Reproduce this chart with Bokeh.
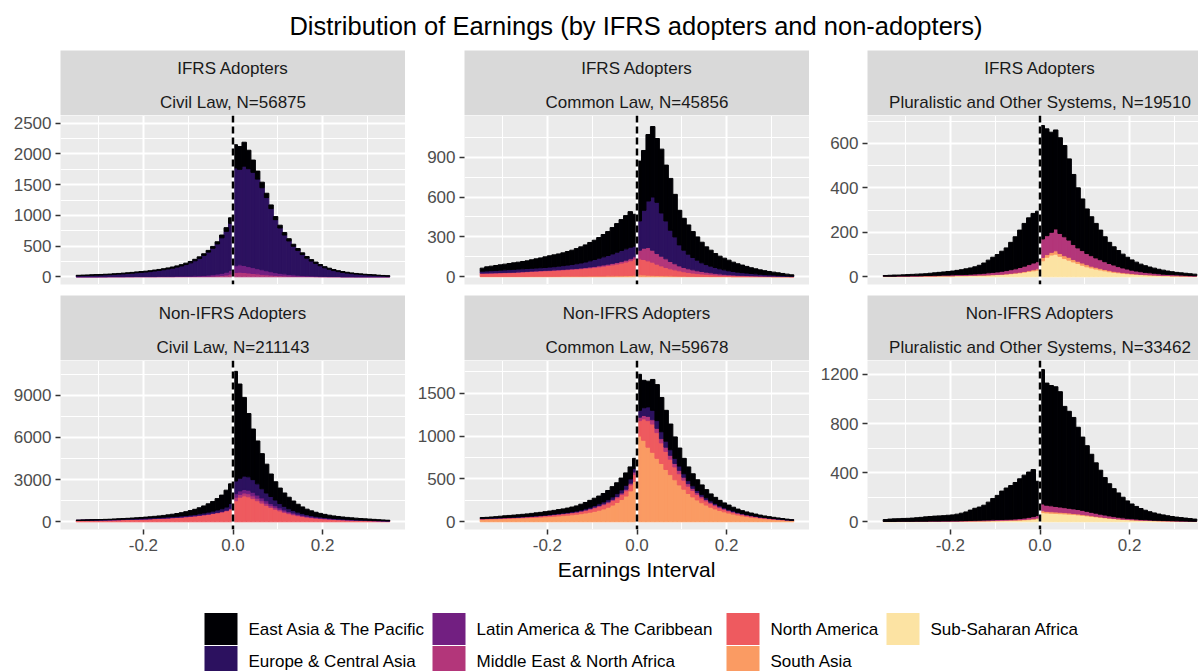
from bokeh.plotting import figure
from bokeh.layouts import column, row
from bokeh.models import (ColumnDataSource, Range1d, FixedTicker, Grid, LinearAxis,
                          Span, PrintfTickFormatter)
from bokeh.core.properties import value
from bokeh.embed import file_html
from bokeh.resources import INLINE

FONT = "Liberation Sans"

# ---------------- data ----------------
bin_centers = [-0.345, -0.335, -0.325, -0.315, -0.305, -0.295, -0.285, -0.275, -0.265, -0.255,
               -0.245, -0.235, -0.225, -0.215, -0.205, -0.195, -0.185, -0.175, -0.165, -0.155,
               -0.145, -0.135, -0.125, -0.115, -0.105, -0.095, -0.085, -0.075, -0.065, -0.055,
               -0.045, -0.035, -0.025, -0.015, -0.005, 0.005, 0.015, 0.025, 0.035, 0.045,
               0.055, 0.065, 0.075, 0.085, 0.095, 0.105, 0.115, 0.125, 0.135, 0.145,
               0.155, 0.165, 0.175, 0.185, 0.195, 0.205, 0.215, 0.225, 0.235, 0.245,
               0.255, 0.265, 0.275, 0.285, 0.295, 0.305, 0.315, 0.325, 0.335, 0.345]
bin_width = 0.01

regions = ["East Asia & The Pacific", "Europe & Central Asia", "Latin America & The Caribbean",
           "Middle East & North Africa", "North America", "South Asia", "Sub-Saharan Africa"]
region_keys = ["EA", "EU", "LA", "ME", "NA", "SA", "SS"]
region_colors = ["#000004", "#2C115F", "#721F81", "#B3367A", "#EE5A5F", "#FA9B63", "#FCE3A3"]

strip_top = ["IFRS Adopters", "IFRS Adopters", "IFRS Adopters",
             "Non-IFRS Adopters", "Non-IFRS Adopters", "Non-IFRS Adopters"]
strip_bottom = ["Civil Law, N=56875", "Common Law, N=45856", "Pluralistic and Other Systems, N=19510",
                "Civil Law, N=211143", "Common Law, N=59678", "Pluralistic and Other Systems, N=33462"]

x_ticks = [-0.2, 0.0, 0.2]
x_minor = [-0.3, -0.1, 0.1, 0.3]

# IFRS adopters, civil law
ifrs_civil_EA = [8, 8, 8, 9, 9, 10, 10, 10, 11, 11, 12, 12, 13, 13, 14, 14, 15, 15, 16, 17, 18, 19, 20, 21, 22, 23, 24, 25, 26, 28, 30, 35, 45, 60, 90,
                 380, 370, 390, 300, 200, 130, 90, 70, 60, 50, 45, 40, 36, 33, 30, 28, 26, 24, 22, 20, 18, 17, 16, 15, 14, 13, 12, 11, 10, 9, 9, 8, 8, 7, 7]
ifrs_civil_EU = [15, 18, 20, 22, 25, 25, 29, 31, 35, 40, 44, 49, 54, 61, 66, 71, 78, 88, 95, 106, 117, 131, 146, 165, 187, 214, 245, 281, 326, 374, 430, 490, 578, 665, 765,
                 1590, 1555, 1615, 1593, 1550, 1457, 1335, 1191, 1027, 862, 738, 632, 545, 464, 403, 340, 286, 241, 206, 171, 139, 117, 97, 80, 69, 58, 49, 42, 36, 31, 26, 22, 17, 13, 9]
ifrs_civil_LA = [1, 1, 1, 1, 1, 2, 2, 2, 2, 2, 2, 3, 3, 3, 3, 4, 4, 4, 5, 5, 6, 6, 7, 7, 8, 8, 10, 12, 15, 18, 22, 28, 35, 45, 60,
                 110, 120, 115, 105, 95, 85, 75, 65, 55, 45, 38, 32, 26, 22, 18, 15, 12, 10, 8, 6, 5, 4, 3, 3, 2, 2, 2, 1, 1, 1, 1, 1, 1, 1, 1]
ifrs_civil_ME = [1, 1, 1, 1, 1, 1, 1, 2, 2, 2, 2, 2, 2, 3, 3, 3, 3, 3, 4, 4, 4, 4, 5, 5, 5, 5, 6, 7, 8, 10, 13, 17, 22, 30, 45,
                 70, 75, 70, 62, 55, 48, 40, 34, 28, 23, 19, 16, 13, 11, 9, 7, 6, 5, 4, 3, 3, 2, 2, 2, 1, 1, 1, 1, 1, 1, 1, 1, 1, 1, 1]

# IFRS adopters, common law
ifrs_common_EA = [23, 31, 34, 37, 40, 43, 46, 49, 52, 55, 58, 64, 69, 74, 80, 85, 89, 92, 96, 102, 107, 114, 121, 129, 138, 145, 155, 168, 180, 198, 215, 232, 250, 268, 240,
                  450, 450, 500, 530, 480, 480, 420, 390, 320, 260, 240, 220, 195, 175, 155, 133, 120, 105, 95, 88, 80, 70, 63, 57, 50, 43, 38, 33, 29, 25, 22, 19, 16, 13, 10]
ifrs_common_EU = [14, 15, 16, 17, 18, 19, 20, 21, 21, 21, 21, 21, 21, 21, 21, 23, 24, 26, 28, 30, 32, 35, 38, 41, 46, 52, 57, 61, 65, 71, 77, 82, 85, 86, 80,
                  220, 285, 350, 400, 385, 325, 285, 235, 202, 158, 130, 110, 93, 80, 65, 57, 50, 44, 38, 33, 29, 26, 23, 20, 18, 16, 14, 12, 11, 10, 8, 7, 6, 4, 3]
ifrs_common_ME = [3, 3, 3, 3, 3, 3, 3, 3, 3, 3, 3, 3, 4, 4, 4, 4, 4, 4, 4, 4, 5, 5, 5, 6, 7, 7, 8, 9, 10, 11, 12, 13, 14, 15, 17,
                  65, 85, 100, 90, 80, 73, 65, 55, 46, 37, 32, 27, 24, 21, 19, 16, 14, 12, 10, 8, 6, 5, 4, 4, 4, 4, 3, 3, 2, 2, 2, 1, 1, 1, 1]
ifrs_common_NA = [22, 23, 24, 25, 26, 27, 28, 29, 31, 33, 35, 36, 37, 39, 41, 42, 44, 46, 47, 49, 51, 53, 56, 59, 61, 65, 69, 74, 78, 83, 88, 95, 102, 111, 121,
                  120, 116, 108, 99, 85, 73, 62, 53, 46, 40, 33, 29, 24, 21, 18, 16, 14, 12, 10, 9, 8, 8, 7, 6, 5, 4, 4, 3, 3, 2, 3, 3, 2, 2, 1]
ifrs_common_SA = [3, 3, 3, 3, 3, 3, 3, 3, 3, 3, 3, 4, 4, 4, 4, 4, 4, 4, 5, 5, 5, 5, 5, 5, 6, 6, 6, 6, 7, 7, 8, 8, 9, 10, 12,
                  15, 14, 12, 11, 10, 9, 8, 7, 6, 5, 5, 4, 4, 3, 3, 3, 2, 2, 2, 2, 2, 1, 1, 1, 1, 1, 1, 1, 1, 1, 0, 0, 0, 0, 0]

# IFRS adopters, pluralistic
ifrs_plural_EA = [3, 4, 5, 4, 5, 6, 6, 7, 8, 8, 10, 11, 13, 14, 16, 17, 19, 22, 25, 28, 32, 38, 46, 57, 68, 78, 90, 102, 123, 144, 168, 192, 210, 223, 227,
                  510, 480, 450, 445, 430, 410, 365, 315, 270, 232, 200, 175, 155, 133, 112, 95, 82, 72, 62, 53, 46, 40, 34, 30, 26, 23, 20, 18, 15, 13, 11, 10, 9, 8, 7]
ifrs_plural_ME = [1, 1, 1, 1, 1, 1, 2, 2, 1, 2, 2, 3, 2, 3, 3, 4, 4, 4, 5, 5, 6, 6, 8, 9, 10, 11, 13, 14, 16, 18, 21, 24, 27, 30, 32,
                  83, 85, 90, 98, 90, 85, 77, 67, 60, 56, 50, 47, 42, 39, 35, 31, 28, 24, 21, 18, 15, 13, 12, 10, 9, 8, 7, 6, 5, 5, 4, 4, 3, 3, 2]
ifrs_plural_SA = [0, 0, 0, 1, 1, 1, 1, 0, 1, 1, 1, 1, 1, 1, 1, 1, 1, 1, 1, 1, 1, 1, 1, 1, 1, 1, 1, 2, 2, 2, 3, 3, 4, 5, 6,
                  15, 12, 12, 15, 13, 13, 13, 11, 10, 10, 10, 8, 8, 7, 6, 6, 5, 4, 3, 3, 3, 2, 1, 1, 1, 1, 1, 1, 1, 1, 1, 0, 1, 0, 0]
ifrs_plural_SS = [2, 2, 2, 2, 2, 2, 2, 3, 3, 3, 3, 3, 4, 4, 4, 4, 5, 5, 5, 6, 6, 7, 7, 8, 9, 10, 11, 12, 14, 16, 18, 21, 24, 27, 30,
                  72, 88, 98, 102, 92, 82, 75, 67, 60, 52, 45, 40, 35, 31, 27, 23, 20, 18, 16, 14, 12, 11, 10, 9, 8, 7, 6, 5, 5, 4, 4, 4, 3, 3, 3]

# Non-IFRS adopters, civil law
non_civil_EA = [10, 13, 15, 17, 19, 21, 23, 25, 30, 35, 40, 48, 56, 64, 60, 70, 80, 94, 108, 125, 145, 168, 194, 228, 268, 315, 365, 425, 500, 590, 690, 810, 970, 1200, 1400,
                7800, 6700, 5600, 4500, 3600, 3050, 2500, 2050, 1600, 1300, 1100, 950, 820, 680, 560, 460, 380, 330, 285, 250, 220, 195, 175, 160, 145, 133, 120, 110, 98, 90, 82, 73, 63, 53, 43]
non_civil_EU = [6, 8, 10, 12, 13, 15, 17, 18, 21, 23, 25, 29, 32, 34, 48, 52, 55, 58, 59, 60, 62, 65, 68, 70, 73, 74, 82, 94, 105, 117, 133, 158, 182, 215, 330,
                900, 900, 950, 950, 900, 800, 650, 550, 500, 400, 300, 240, 190, 160, 140, 120, 100, 80, 70, 60, 50, 43, 37, 32, 30, 27, 23, 20, 19, 17, 15, 13, 12, 10, 8]
non_civil_LA = [2, 2, 2, 2, 3, 3, 3, 3, 3, 4, 4, 4, 4, 4, 4, 5, 5, 5, 6, 7, 7, 8, 9, 9, 10, 11, 12, 14, 16, 18, 20, 22, 26, 30, 40,
                250, 250, 250, 250, 250, 220, 200, 180, 150, 140, 120, 100, 85, 75, 60, 55, 48, 42, 35, 32, 28, 25, 22, 20, 18, 16, 15, 14, 12, 11, 10, 9, 8, 7, 6]
non_civil_ME = [2, 2, 2, 2, 2, 2, 2, 3, 3, 3, 3, 3, 3, 4, 4, 4, 5, 5, 5, 5, 6, 7, 7, 8, 9, 10, 11, 12, 14, 15, 17, 20, 22, 25, 30,
                250, 200, 200, 220, 200, 180, 170, 150, 130, 120, 100, 90, 75, 65, 55, 47, 42, 38, 33, 30, 27, 24, 21, 19, 17, 16, 14, 13, 12, 11, 10, 9, 8, 7, 6]
non_civil_NA = [95, 100, 106, 112, 118, 124, 130, 136, 143, 150, 158, 166, 175, 184, 194, 204, 215, 228, 242, 258, 275, 292, 312, 335, 360, 390, 420, 455, 495, 540, 590, 640, 700, 780, 900,
                1500, 1750, 1850, 1780, 1650, 1500, 1330, 1170, 1020, 890, 780, 670, 580, 500, 435, 378, 330, 290, 257, 228, 205, 183, 165, 149, 135, 123, 113, 103, 94, 86, 78, 71, 64, 58, 52]

# Non-IFRS adopters, common law
non_common_EA = [10, 10, 12, 14, 17, 20, 22, 23, 24, 26, 28, 30, 32, 34, 38, 39, 41, 44, 46, 50, 54, 59, 67, 73, 80, 85, 90, 98, 107, 120, 127, 138, 145, 140, 120,
                 420, 320, 300, 360, 420, 400, 360, 300, 250, 210, 180, 160, 140, 125, 110, 95, 80, 70, 62, 55, 50, 42, 36, 32, 29, 26, 23, 20, 17, 15, 13, 11, 9, 7, 5]
non_common_EU = [3, 3, 3, 3, 3, 3, 3, 4, 4, 4, 4, 5, 5, 5, 5, 6, 7, 7, 7, 7, 8, 9, 10, 12, 15, 18, 20, 22, 25, 28, 33, 37, 45, 50, 40,
                 80, 90, 110, 110, 90, 80, 70, 65, 60, 50, 40, 35, 30, 25, 22, 20, 17, 15, 13, 11, 10, 9, 8, 7, 6, 5, 5, 4, 3, 3, 3, 2, 2, 2, 1]
non_common_ME = [2, 2, 2, 2, 2, 2, 2, 2, 3, 3, 3, 3, 3, 3, 3, 4, 4, 5, 5, 5, 6, 6, 7, 7, 8, 9, 10, 11, 12, 14, 15, 17, 18, 20, 30,
                 40, 40, 50, 50, 50, 50, 50, 45, 40, 40, 35, 30, 25, 22, 20, 17, 15, 13, 11, 10, 9, 8, 7, 6, 5, 5, 4, 3, 3, 3, 2, 2, 2, 1, 1]
non_common_NA = [5, 5, 6, 6, 6, 7, 7, 7, 7, 8, 9, 10, 12, 13, 14, 15, 17, 18, 20, 21, 22, 23, 26, 30, 35, 41, 45, 49, 51, 53, 55, 58, 62, 70, 80,
                 180, 250, 310, 330, 300, 240, 210, 180, 150, 130, 105, 85, 75, 63, 56, 48, 43, 37, 32, 28, 24, 21, 18, 16, 14, 12, 10, 9, 8, 6, 5, 5, 4, 3, 2]
non_common_SA = [30, 32, 33, 35, 37, 38, 40, 42, 44, 46, 48, 50, 52, 55, 58, 61, 64, 68, 72, 77, 82, 88, 95, 103, 112, 122, 135, 150, 170, 195, 225, 260, 300, 360, 470,
                 1000, 950, 870, 810, 740, 680, 610, 550, 490, 430, 380, 330, 290, 255, 222, 195, 170, 150, 132, 116, 102, 90, 79, 69, 61, 54, 48, 42, 37, 33, 29, 25, 21, 18, 15]

# Non-IFRS adopters, pluralistic
non_plural_EA = [15, 19, 21, 21, 23, 24, 26, 28, 31, 35, 37, 40, 42, 43, 46, 48, 54, 61, 70, 84, 98, 107, 121, 145, 174, 197, 231, 255, 274, 297, 324, 350, 369, 383, 280,
                 1095, 995, 980, 975, 940, 825, 790, 745, 670, 597, 535, 473, 410, 358, 305, 262, 228, 198, 168, 142, 120, 103, 89, 77, 67, 59, 51, 45, 39, 34, 30, 27, 24, 21, 18]
non_plural_ME = [1, 1, 1, 1, 1, 1, 1, 2, 2, 1, 2, 2, 2, 2, 2, 3, 3, 3, 4, 4, 5, 5, 6, 6, 6, 7, 7, 7, 7, 8, 9, 11, 14, 17, 20,
                 55, 50, 48, 45, 42, 40, 38, 37, 36, 33, 30, 27, 25, 22, 20, 17, 15, 13, 11, 9, 8, 7, 6, 5, 4, 3, 3, 3, 3, 2, 2, 2, 1, 1, 1]
non_plural_SA = [0, 0, 0, 1, 1, 1, 1, 1, 0, 1, 1, 1, 1, 1, 1, 1, 1, 1, 1, 2, 1, 2, 1, 2, 2, 3, 3, 3, 3, 3, 4, 4, 5, 5, 6,
                 15, 13, 12, 12, 12, 11, 10, 9, 8, 8, 7, 6, 5, 4, 3, 3, 2, 2, 2, 2, 2, 2, 1, 1, 1, 1, 1, 1, 1, 1, 1, 1, 1, 1, 0]
non_plural_SS = [2, 2, 2, 2, 2, 2, 2, 2, 3, 3, 3, 3, 3, 4, 4, 4, 4, 5, 5, 5, 6, 6, 7, 7, 8, 8, 9, 10, 11, 12, 13, 15, 17, 20, 24,
                 75, 72, 70, 68, 66, 64, 62, 59, 56, 52, 48, 44, 40, 36, 32, 28, 25, 22, 19, 17, 15, 13, 12, 11, 10, 9, 8, 7, 6, 6, 5, 4, 4, 3, 3]

panel_data = [
    {"EA": ifrs_civil_EA, "EU": ifrs_civil_EU, "LA": ifrs_civil_LA, "ME": ifrs_civil_ME},
    {"EA": ifrs_common_EA, "EU": ifrs_common_EU, "ME": ifrs_common_ME, "NA": ifrs_common_NA, "SA": ifrs_common_SA},
    {"EA": ifrs_plural_EA, "ME": ifrs_plural_ME, "SA": ifrs_plural_SA, "SS": ifrs_plural_SS},
    {"EA": non_civil_EA, "EU": non_civil_EU, "LA": non_civil_LA, "ME": non_civil_ME, "NA": non_civil_NA},
    {"EA": non_common_EA, "EU": non_common_EU, "ME": non_common_ME, "NA": non_common_NA, "SA": non_common_SA},
    {"EA": non_plural_EA, "ME": non_plural_ME, "SA": non_plural_SA, "SS": non_plural_SS},
]

y_ticks = [[0, 500, 1000, 1500, 2000, 2500], [0, 300, 600, 900], [0, 200, 400, 600],
           [0, 3000, 6000, 9000], [0, 500, 1000, 1500], [0, 400, 800, 1200]]
y_minor = [[250, 750, 1250, 1750, 2250], [150, 450, 750, 1050], [100, 300, 500, 700],
           [1500, 4500, 7500, 10500], [250, 750, 1250, 1750], [200, 600, 1000]]
y_limits = [(-125, 2625), (-58, 1213), (-34.5, 725), (-546, 11473), (-90, 1881), (-63, 1314)]

# ---------------- layout constants ----------------
col_border_left = [60, 59, 58]
col_frame_w = [345, 345, 331]
x_start = -0.385
x_per_px = 0.77 / 345
FRAME_H = 169
STRIP_H = 65
PANEL_BG = "#EBEBEB"
STRIP_BG = "#D9D9D9"

color_of = dict(zip(region_keys, region_colors))
stack_order = ["SS", "SA", "NA", "ME", "LA", "EU", "EA"]


def strip_fig(idx, col):
    fw = col_frame_w[col]
    p = figure(frame_width=fw, frame_height=STRIP_H,
               x_range=Range1d(x_start, x_start + fw * x_per_px), y_range=Range1d(0, STRIP_H),
               x_axis_location=None, y_axis_location=None, toolbar_location=None,
               output_backend="svg", min_border_left=col_border_left[col], min_border_right=0,
               min_border_top=0, min_border_bottom=0, background_fill_color=STRIP_BG,
               outline_line_color=None, border_fill_color="white")
    src = ColumnDataSource(dict(x=[0.0, 0.0], y=[STRIP_H - 18, STRIP_H - 51.5],
                                t=[strip_top[idx], strip_bottom[idx]]))
    p.text(x="x", y="y", text="t", source=src, text_align="center", text_baseline="middle",
           text_font=value(FONT), text_font_size="17px", text_color="#1A1A1A")
    p.grid.visible = False
    return p


def panel_fig(idx, col, bottom_row):
    fw = col_frame_w[col]
    lo, hi = y_limits[idx]
    p = figure(frame_width=fw, frame_height=FRAME_H,
               x_range=Range1d(x_start, x_start + fw * x_per_px), y_range=Range1d(lo, hi),
               x_axis_location=None, y_axis_location="left", toolbar_location=None,
               output_backend="svg", min_border_left=col_border_left[col], min_border_right=0,
               min_border_top=0, min_border_bottom=30 if bottom_row else 11,
               background_fill_color=PANEL_BG, outline_line_color=None, border_fill_color="white")
    xt = FixedTicker(ticks=x_ticks, minor_ticks=x_minor)
    xgrid = Grid(dimension=0, ticker=xt, grid_line_color="white", grid_line_width=2,
                 minor_grid_line_color="white", minor_grid_line_width=1)
    p.add_layout(xgrid)
    if bottom_row:
        xa = LinearAxis(ticker=xt, formatter=PrintfTickFormatter(format="%.1f"))
        p.add_layout(xa, "below")
    p.yaxis.ticker = FixedTicker(ticks=y_ticks[idx], minor_ticks=y_minor[idx])
    p.yaxis.formatter = PrintfTickFormatter(format="%d")
    p.ygrid.grid_line_color = "white"
    p.ygrid.grid_line_width = 2
    p.ygrid.minor_grid_line_color = "white"
    p.ygrid.minor_grid_line_width = 1
    for ax in p.axis:
        ax.axis_line_color = None
        ax.major_tick_line_color = "#333333"
        ax.major_tick_line_width = 1.5
        ax.major_tick_out = 5
        ax.major_tick_in = 0
        ax.minor_tick_line_color = None
        ax.major_label_standoff = 4
        ax.major_label_text_font = FONT
        ax.major_label_text_font_size = "17px"
        ax.major_label_text_color = "#4D4D4D"

    data = panel_data[idx]
    keys = [k for k in stack_order if k in data]
    src = dict(x=bin_centers)
    for k in keys:
        src[k] = data[k]
    cols = [color_of[k] for k in keys]
    p.vbar_stack(keys, x="x", width=bin_width, source=ColumnDataSource(src),
                 fill_color=cols, line_color=cols, line_width=1)
    p.add_layout(Span(location=0, dimension="height", line_color="white", line_width=2.5))
    p.add_layout(Span(location=0, dimension="height", line_color="black", line_width=2.5,
                      line_dash="7 4"))
    return p


columns = []
for col in range(3):
    items = [strip_fig(col, col), panel_fig(col, col, False),
             strip_fig(col + 3, col), panel_fig(col + 3, col, True)]
    columns.append(column(*items, spacing=0))

TOTAL_W = 1198

HEAD_H = 50
header = figure(width=TOTAL_W, height=HEAD_H, x_range=Range1d(0, TOTAL_W), y_range=Range1d(HEAD_H, 0),
                x_axis_location=None, y_axis_location=None, toolbar_location=None,
                output_backend="svg", min_border=0, outline_line_color=None)
header.text(x=[635.5], y=[25], text=["Distribution of Earnings (by IFRS adopters and non-adopters)"],
            text_align="center", text_baseline="middle", text_font=value(FONT),
            text_font_size="25.5px", text_color="black")
header.grid.visible = False

FOOT_H = 112
footer = figure(width=TOTAL_W, height=FOOT_H, x_range=Range1d(0, TOTAL_W), y_range=Range1d(FOOT_H, 0),
                x_axis_location=None, y_axis_location=None, toolbar_location=None,
                output_backend="svg", min_border=0, outline_line_color=None)
footer.grid.visible = False
footer.text(x=[636], y=[9.5], text=["Earnings Interval"], text_align="center", text_baseline="middle",
            text_font=value(FONT), text_font_size="21px", text_color="black")

key_col_x = [204, 432, 726, 886]
key_w, key_h, row_h = 33, 32, 33
key_top0 = 53.5
lx, lr, lt, lb, tx, ty = [], [], [], [], [], []
for i in range(len(regions)):
    c, r = divmod(i, 2)
    x0 = key_col_x[c]
    lx.append(x0)
    lr.append(x0 + key_w)
    lt.append(key_top0 + r * row_h)
    lb.append(key_top0 + r * row_h + key_h)
    tx.append(x0 + key_w + 11)
    ty.append(key_top0 + 16 + r * (row_h - 1))
footer.quad(left=lx, right=lr, top=lt, bottom=lb, fill_color=region_colors, line_color=None)
footer.text(x=tx, y=ty, text=regions, text_align="left", text_baseline="middle",
            text_font=value(FONT), text_font_size="17px", text_color="black")

layout = column(header, row(*columns, spacing=0), footer, spacing=0)

open("out.html", "w").write(file_html(layout, INLINE))
